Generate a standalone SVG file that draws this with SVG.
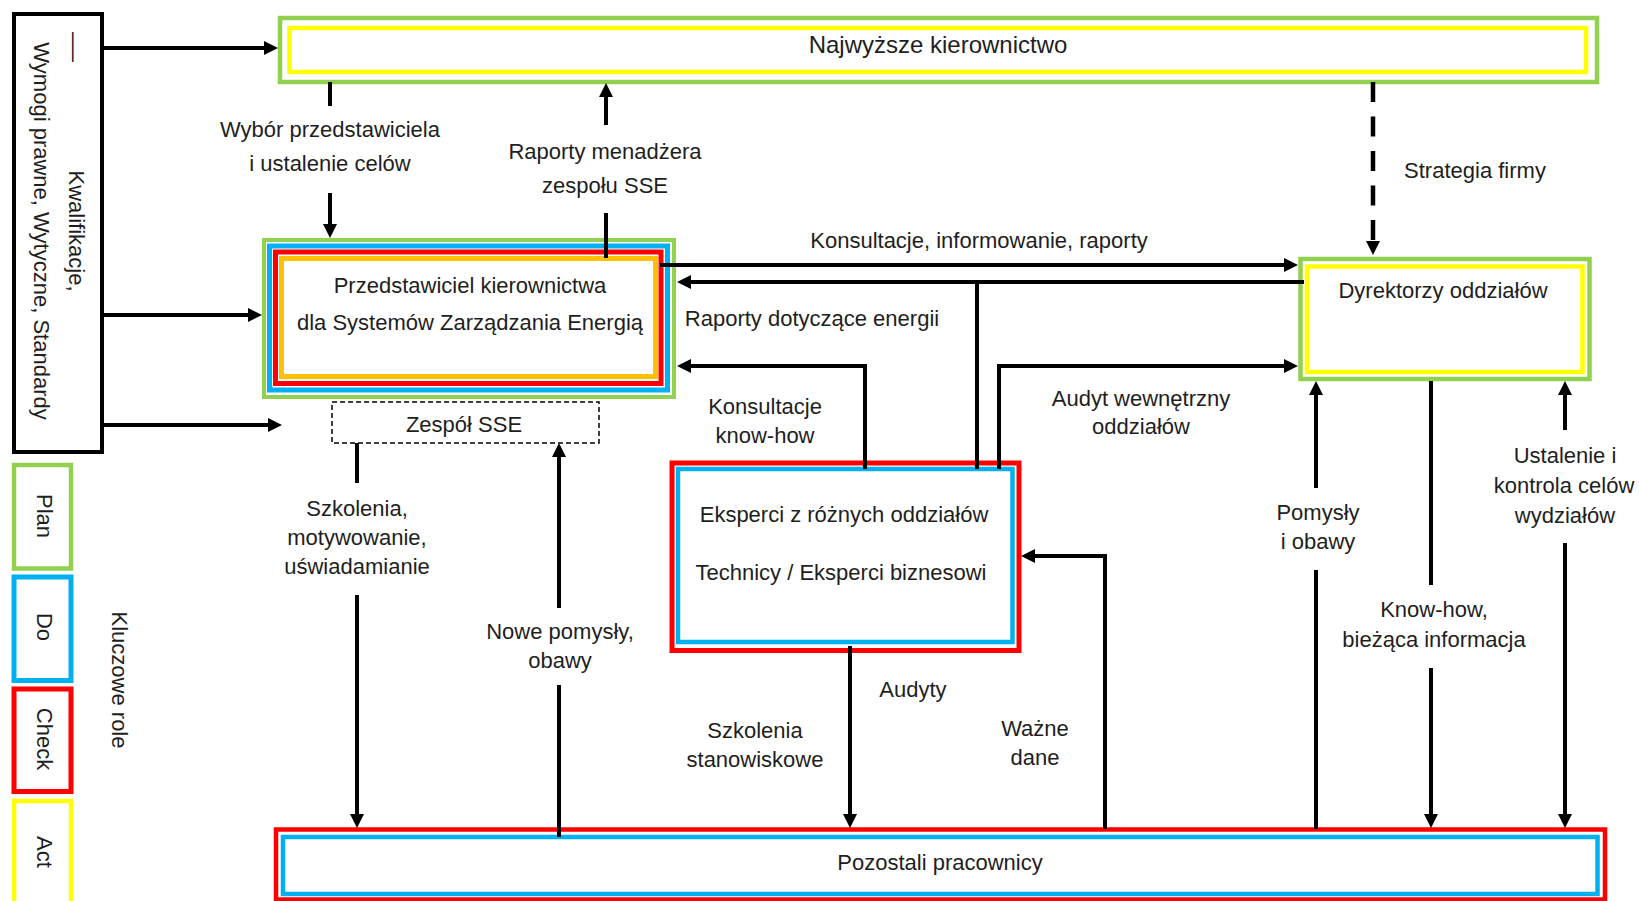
<svg xmlns="http://www.w3.org/2000/svg" width="1639" height="901" viewBox="0 0 1639 901">
<style>
text{font-family:"Liberation Sans",Arial,sans-serif;font-size:22px;fill:#1e1e1e;text-anchor:middle}
.g{stroke:#92D050;fill:none;stroke-width:4.5}
.y{stroke:#FFFF00;fill:none;stroke-width:4.5}
.b{stroke:#00B0F0;fill:none;stroke-width:5}
.r{stroke:#FF0000;fill:none;stroke-width:5}
.o{stroke:#FFC000;fill:none;stroke-width:5}
.k{stroke:#000;fill:#fff;stroke-width:4}
.ln{stroke:#000;stroke-width:4;fill:none}
.arr{marker-end:url(#ah)}
.dash{stroke-dasharray:20 14.5;stroke-width:4.5}
</style>
<defs>
<marker id="ah" markerUnits="userSpaceOnUse" markerWidth="14" markerHeight="14" viewBox="0 0 14 14" refX="4" refY="7" orient="auto">
<path d="M0,0 L14,7 L0,14 z" fill="#000"/>
</marker>
</defs>
<rect width="1639" height="901" fill="#fff"/>

<g id="source">
<rect class="k" x="14" y="14" width="88" height="438"/>
<text x="0" y="0" transform="translate(67,32) rotate(90)" style="text-anchor:start" textLength="30" lengthAdjust="spacingAndGlyphs">—</text>
<text transform="translate(69,231) rotate(90)">Kwalifikacje,</text>
<text transform="translate(34,231) rotate(90)">Wymogi prawne, Wytyczne, Standardy</text>
</g>

<g id="legend">
<rect class="g" x="14" y="465" width="57" height="103.5"/>
<text transform="translate(37,516) rotate(90)">Plan</text>
<rect class="b" x="14" y="577" width="57" height="103.5"/>
<text transform="translate(37,627) rotate(90)">Do</text>
<rect class="r" x="14" y="689" width="57" height="102.5"/>
<text transform="translate(37,739) rotate(90)">Check</text>
<rect class="y" x="14" y="801" width="57" height="120"/>
<text transform="translate(37,852) rotate(90)">Act</text>
<text transform="translate(112,680) rotate(90)">Kluczowe role</text>
</g>

<g id="top-management">
<rect class="g" x="280" y="18" width="1317" height="64"/>
<rect class="y" x="289.5" y="28" width="1296.5" height="44"/>
<text x="938" y="53" style="font-size:24px">Najwyższe kierownictwo</text>
</g>

<g id="management-rep">
<rect class="g" x="264" y="240" width="410" height="157" style="stroke-width:4"/>
<rect class="b" x="269.5" y="246" width="398" height="144"/>
<rect class="r" x="275.5" y="252" width="385.5" height="131.5"/>
<rect class="o" x="281.5" y="258.5" width="374" height="118"/>
<text x="470" y="293">Przedstawiciel kierownictwa</text>
<text x="470" y="330">dla Systemów Zarządzania Energią</text>
</g>

<g id="team-sse">
<rect x="332" y="402" width="267" height="41" fill="none" stroke="#000" stroke-width="1.5" stroke-dasharray="5 3"/>
<text x="464" y="432">Zespół SSE</text>
</g>

<g id="directors">
<rect class="g" x="1300.5" y="259" width="289" height="120"/>
<rect class="y" x="1307" y="266.5" width="275.5" height="105.5"/>
<text x="1443" y="298">Dyrektorzy oddziałów</text>
</g>

<g id="experts">
<rect class="r" x="672" y="463" width="347" height="187.5"/>
<rect class="b" x="678" y="469" width="334.5" height="173" style="stroke-width:4.5"/>
<text x="844" y="522">Eksperci z różnych oddziałów</text>
<text x="841" y="580">Technicy / Eksperci biznesowi</text>
</g>

<g id="employees">
<rect class="r" x="276" y="829.5" width="1329" height="70" style="stroke-width:4.5"/>
<rect class="b" x="283" y="837" width="1314.5" height="57" style="stroke-width:4.5"/>
<text x="940" y="870">Pozostali pracownicy</text>
</g>

<g id="connectors">
<path class="ln arr" d="M104,48 H268"/>
<path class="ln arr" d="M104,315 H252"/>
<path class="ln arr" d="M104,425 H272"/>
<path class="ln" d="M330,82 V106"/>
<path class="ln arr" d="M330,193 V228"/>
<path class="ln" d="M606,258 V213"/>
<path class="ln arr" d="M606,125 V93"/>
<path class="ln arr dash" d="M1373,82 V245"/>
<path class="ln arr" d="M660,265 H1288"/>
<path class="ln arr" d="M1304,282 H687"/>
<path class="ln" d="M977,469 V282"/>
<path class="ln arr" d="M865,469 V366 H687"/>
<path class="ln arr" d="M999,469 V366 H1288"/>
<path class="ln" d="M357,443 V483"/>
<path class="ln arr" d="M357,595 V818"/>
<path class="ln" d="M559,837 V685"/>
<path class="ln arr" d="M559,608 V453"/>
<path class="ln arr" d="M850,646 V818"/>
<path class="ln arr" d="M1105,829 V556 H1031"/>
<path class="ln" d="M1316,829 V570"/>
<path class="ln arr" d="M1316,488 V391"/>
<path class="ln" d="M1431,381 V585"/>
<path class="ln arr" d="M1431,668 V818"/>
<path class="ln arr" d="M1565,430 V391"/>
<path class="ln arr" d="M1565,543 V818"/>
</g>

<g id="labels">
<text x="330" y="137">Wybór przedstawiciela</text>
<text x="330" y="171">i ustalenie celów</text>
<text x="605" y="159">Raporty menadżera</text>
<text x="605" y="193">zespołu SSE</text>
<text x="1475" y="178">Strategia firmy</text>
<text x="979" y="248">Konsultacje, informowanie, raporty</text>
<text x="812" y="326">Raporty dotyczące energii</text>
<text x="765" y="414">Konsultacje</text>
<text x="765" y="443">know-how</text>
<text x="1141" y="406">Audyt wewnętrzny</text>
<text x="1141" y="434">oddziałów</text>
<text x="357" y="516">Szkolenia,</text>
<text x="357" y="545">motywowanie,</text>
<text x="357" y="574">uświadamianie</text>
<text x="560" y="639">Nowe pomysły,</text>
<text x="560" y="668">obawy</text>
<text x="755" y="738">Szkolenia</text>
<text x="755" y="767">stanowiskowe</text>
<text x="913" y="697">Audyty</text>
<text x="1035" y="736">Ważne</text>
<text x="1035" y="765">dane</text>
<text x="1318" y="520">Pomysły</text>
<text x="1318" y="549">i obawy</text>
<text x="1434" y="617">Know-how,</text>
<text x="1434" y="647">bieżąca informacja</text>
<text x="1565" y="463">Ustalenie i</text>
<text x="1564" y="493">kontrola celów</text>
<text x="1565" y="523">wydziałów</text>
</g>
</svg>
